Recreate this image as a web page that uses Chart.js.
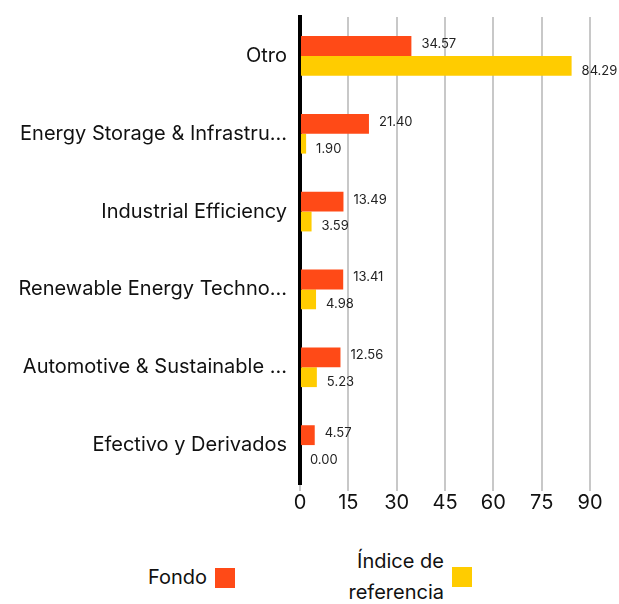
<!DOCTYPE html>
<html>
<head>
<meta charset="utf-8">
<script src="https://cdn.jsdelivr.net/npm/chart.js@4"></script>
<style>
  body { margin: 0; background: #fff; font-family: "Inter", sans-serif; }
  #wrap { position: relative; width: 619px; height: 604px; }
  #grafico { position: absolute; left: 0; top: 0; }
  .leyenda { position: absolute; display: flex; align-items: center; color: #111; font-size: 20px; }
  .leyenda span.caja { width: 20px; height: 20px; margin-left: 8px; display: inline-block; }
  .leyenda .txt { text-align: right; line-height: 31px; }
</style>
</head>
<body>
<div id="wrap">
  <canvas id="grafico" width="619" height="515"></canvas>
  <div class="leyenda" style="right:384px; top:562px;"><div class="txt">Fondo</div><span class="caja" style="background:#FF4A17"></span></div>
  <div class="leyenda" style="right:147px; top:546px;"><div class="txt">Índice de<br>referencia</div><span class="caja" style="background:#FFCC00"></span></div>
</div>
<script>
const categorias = [
  'Otro',
  'Energy Storage & Infrastructure',
  'Industrial Efficiency',
  'Renewable Energy Technologies',
  'Automotive & Sustainable Transport',
  'Efectivo y Derivados'
];
const valoresFondo = [34.57, 21.40, 13.49, 13.41, 12.56, 4.57];
const valoresIndice = [84.29, 1.90, 3.59, 4.98, 5.23, 0.00];
const ticksEjeX = [0, 15, 30, 45, 60, 75, 90];

const fuente = 'Inter, sans-serif';
const anchoMaxEtiqueta = 272;

// recorta las etiquetas largas con "…"
const medidor = document.createElement('canvas').getContext('2d');
medidor.font = '20px ' + fuente;
function recortar(txt) {
  if (medidor.measureText(txt).width <= anchoMaxEtiqueta) return txt;
  let s = txt;
  while (s.length > 0 && medidor.measureText(s + '…').width > anchoMaxEtiqueta) s = s.slice(0, -1);
  return s + '…';
}

const etiquetasValor = {
  id: 'etiquetasValor',
  afterDatasetsDraw(chart) {
    const ctx = chart.ctx;
    ctx.save();
    ctx.font = '13px ' + fuente;
    ctx.fillStyle = '#222';
    ctx.textBaseline = 'middle';
    ctx.textAlign = 'left';
    chart.data.datasets.forEach((ds, i) => {
      const meta = chart.getDatasetMeta(i);
      meta.data.forEach((bar, j) => {
        const dy = i === 0 ? -2 : 5;
        ctx.fillText(ds.data[j].toFixed(2), bar.x + 10, bar.y + dy);
      });
    });
    ctx.restore();
  }
};

const ctx = document.getElementById('grafico').getContext('2d');
new Chart(ctx, {
  type: 'bar',
  data: {
    labels: categorias,
    datasets: [
      { label: 'Fondo', data: valoresFondo, backgroundColor: '#FF4A17' },
      { label: 'Índice de referencia', data: valoresIndice, backgroundColor: '#FFCC00' }
    ]
  },
  options: {
    indexAxis: 'y',
    responsive: false,
    animation: false,
    layout: { padding: { left: 8, right: 29, top: 10, bottom: 0 } },
    datasets: { bar: { categoryPercentage: 0.51, barPercentage: 1.0 } },
    scales: {
      x: {
        min: 0,
        max: 90,
        afterBuildTicks(scale) { scale.ticks = ticksEjeX.map(v => ({ value: v })); },
        grid: { color: '#c8c8c8', lineWidth: 2, tickLength: 7 },
        border: { display: false },
        ticks: { color: '#111', font: { family: fuente, size: 20 }, padding: 0 }
      },
      y: {
        grid: { display: false },
        border: { color: '#000', width: 4 },
        afterFit(scale) { scale.width = 292; },
        ticks: {
          color: '#111',
          font: { family: fuente, size: 20 },
          padding: 5,
          callback(v) { return recortar(this.getLabelForValue(v)); }
        }
      }
    },
    plugins: {
      legend: { display: false },
      tooltip: { enabled: false }
    }
  },
  plugins: [etiquetasValor]
});
</script>
</body>
</html>
